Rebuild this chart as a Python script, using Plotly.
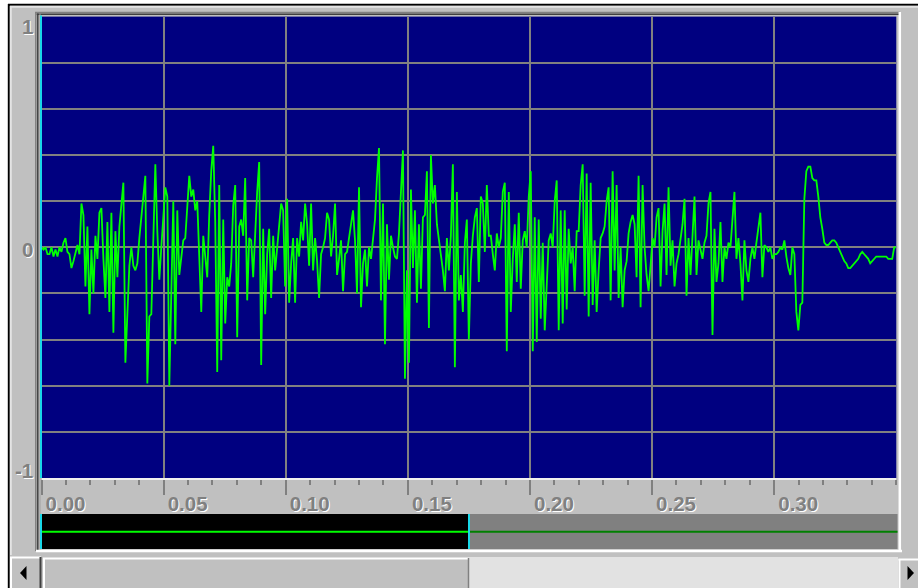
import plotly.graph_objects as go

# ---------------- data ----------------
SAMPLE_RATE = 1223.0  # samples per second of the displayed waveform

amplitude_part1 = [
    0, -0.01, 0.0, -0.03, -0.03, 0.0, -0.04, -0.01, -0.04, 0.0,
    -0.02, 0.02, 0.04, -0.02, -0.03, -0.09, -0.06, -0.02, 0.01, -0.03,
    0.19, 0.14, -0.17, 0.09, -0.29, -0.01, -0.2, 0.05, -0.05, 0.15,
    0.17, -0.05, -0.22, 0.11, -0.28, 0.15, -0.37, 0.07, -0.13, 0.09,
    0.2, 0.28, -0.5, -0.28, -0.08, 0.0, -0.08, -0.1, -0.07, 0.04,
    0.13, 0.22, 0.31, -0.59, -0.3, -0.29, 0.03, 0.36, 0.07, -0.14,
    0.0, 0.12, 0.26, 0.22, -0.6, -0.2, 0.2, -0.42, 0.16, -0.12,
    -0.05, 0.03, 0.04, 0.19, 0.31, 0.22, 0.25, 0.16, 0.2, -0.04,
    -0.28, 0.05, -0.04, -0.13, 0.14, 0.33, 0.44, 0.11, -0.54, 0.27,
    -0.49, 0.12, -0.33, -0.13, -0.17, -0.07, 0.18, 0.27, -0.39, 0.09,
    0.12, 0.05, 0.3, -0.23, 0.04, 0.03, -0.13,
]
amplitude_part2 = [
    0.07, 0.24, 0.37, -0.51, 0.08, -0.29, -0.03, 0.08, -0.22, 0.05,
    -0.1, 0.0, 0.07, 0.19, 0.16, -0.17, 0.21, -0.24, -0.07, 0.04,
    -0.24, 0.04, -0.04, 0.11, 0.03, 0.19, 0.1, -0.08, 0.19, -0.1,
    0.04, -0.06, -0.22, -0.03, 0.0, 0.04, 0.15, 0.12, -0.04, 0.05,
    0.19, -0.12, -0.05, 0.03, -0.19, -0.03, -0.02, 0.04, 0.12, 0.16,
    0.03, -0.2, 0.26, -0.26, -0.07, -0.01, -0.17, 0.0, -0.05, 0.04,
    0.12, 0.3, 0.43, -0.23, 0.19, -0.42, 0.1, -0.14, 0.05, 0.0,
    -0.04, -0.05, 0.06, 0.24, 0.42, -0.57, -0.1, -0.5, 0.25, -0.09,
    0.16, -0.24, 0.1, -0.18, 0.13, 0.14, 0.33, -0.35, 0.4, 0.19,
    0.27, 0.1, 0.04, -0.03, -0.1, -0.19, 0.04, -0.1, 0.05, 0.36,
    -0.52, 0.24, -0.23, -0.12, -0.28, 0.02, 0.12,
]
amplitude_part3 = [
    -0.4, -0.07, 0.05, 0.13, 0.17, -0.15, 0.22, 0.19, -0.02, 0.27,
    0.05, 0.05, -0.03, -0.1, 0.06, 0.0, 0.04, 0.24, 0.28, -0.45,
    0.24, -0.28, -0.05, 0.1, -0.15, 0.15, -0.18, 0.03, 0.07, 0.0,
    0.22, 0.33, -0.45, 0.13, -0.41, 0.12, -0.31, 0.02, -0.36, -0.15,
    0.03, 0.06, 0.0, 0.2, 0.29, -0.36, 0.16, -0.33, 0.16, -0.27,
    0.08, -0.07, 0.0, -0.19, 0.07, 0.07, 0.27, 0.36, -0.21, 0.32,
    -0.3, 0.28, -0.25, 0.03, -0.28, -0.1, 0.04, 0.06, 0.09, 0.2,
    0.26, -0.23, 0.33, -0.1, 0.27, -0.22, 0.0, -0.26, -0.1, -0.06,
    0.06, 0.11, 0.14, 0.1, -0.13, 0.31, -0.26, 0.27, 0.0, -0.12,
    -0.19, -0.08, 0.04, 0.0, 0.13, 0.17, -0.17, 0.07, 0.19, -0.12,
    0.26, -0.08, 0.03, -0.17, -0.07, -0.03, 0.05,
]
amplitude_part4 = [
    0.1, 0.21, -0.21, 0.04, -0.12, 0.05, 0.22, -0.12, 0.03, -0.01,
    -0.05, 0.02, 0.05, 0.19, 0.24, -0.38, 0.08, -0.15, -0.07, 0.11,
    -0.15, 0.0, -0.05, 0.02, 0.0, 0.12, 0.24, -0.05, 0.04, -0.07,
    -0.23, 0.03, -0.1, -0.15, -0.05, 0.0, -0.05, 0.02, 0.08, 0.15,
    -0.13, 0.01, 0.0, -0.02, 0.0, -0.05, -0.03, -0.03, -0.02, 0.0,
    -0.01, 0.03, -0.04, -0.09, -0.12, 0.0, -0.03, -0.28, -0.36, -0.25,
    -0.24, 0.21, 0.33, 0.35, 0.35, 0.3, 0.29, 0.29, 0.22, 0.13,
    0.08, 0.02, 0.01, 0.01, 0.02, 0.03, 0.03, 0.02, 0.0, -0.02,
    -0.04, -0.06, -0.07, -0.09, -0.09, -0.08, -0.07, -0.06, -0.05, -0.03,
    -0.02, -0.03, -0.04, -0.05, -0.07, -0.06, -0.05, -0.04, -0.04, -0.04,
    -0.04, -0.04, -0.04, -0.05, -0.05, -0.05, 0.0, 0.0,
]
amplitude = amplitude_part1 + amplitude_part2 + amplitude_part3 + amplitude_part4
time_s = [i / SAMPLE_RATE for i in range(len(amplitude))]

x_tick_vals = [0.00, 0.05, 0.10, 0.15, 0.20, 0.25, 0.30]
x_tick_text = ["0.00", "0.05", "0.10", "0.15", "0.20", "0.25", "0.30"]
y_label_text = ["1", "0", "-1"]
y_label_vals = [1, 0, -1]

# ---------------- layout helpers ----------------
W, H = 918, 588
def PX(x):
    return x / W
def PY(y):
    return 1 - y / H

PLOT_L, PLOT_R, PLOT_T, PLOT_B = 41.5, 896.3, 16.6, 478.0

LABEL_FONT = dict(family="Liberation Sans, Arial, sans-serif", size=20.5,
                  color="#808080", weight="bold",
                  shadow="1px 1px 0px #ffffff")

fig = go.Figure()
fig.add_trace(go.Scatter(
    x=time_s, y=amplitude, mode="lines",
    line=dict(color="#00ff00", width=1.8),
    hoverinfo="skip", showlegend=False,
))

shapes = []
def rect(x0, y0, x1, y1, fill, line_color=None, lw=0):
    shapes.append(dict(type="rect", xref="paper", yref="paper",
                       x0=PX(x0), x1=PX(x1), y0=PY(y1), y1=PY(y0),
                       fillcolor=fill,
                       line=dict(width=lw, color=line_color or fill)))
def hline(x0, x1, y, color, lw):
    shapes.append(dict(type="line", xref="paper", yref="paper",
                       x0=PX(x0), x1=PX(x1), y0=PY(y), y1=PY(y),
                       line=dict(color=color, width=lw)))
def vline(x, y0, y1, color, lw):
    shapes.append(dict(type="line", xref="paper", yref="paper",
                       x0=PX(x), x1=PX(x), y0=PY(y0), y1=PY(y1),
                       line=dict(color=color, width=lw)))
def tri(points, color):
    path = "M " + " L ".join(f"{PX(a)},{PY(b)}" for a, b in points) + " Z"
    shapes.append(dict(type="path", xref="paper", yref="paper", path=path,
                       fillcolor=color, line=dict(color=color, width=0)))

# window frame
rect(0, 0, W, 4, "#ffffff")
rect(0, 0, 8, H, "#ffffff")
hline(8, W, 4.8, "#000000", 2)
vline(8.8, 4, H, "#000000", 2)
hline(10, W, 6.8, "#e4e4e4", 2)
vline(10.8, 6, H, "#e4e4e4", 2)

# sunken panel border
hline(35, 900, 12.5, "#808080", 1.5)
hline(36.5, 899, 14.3, "#404040", 1.5)
vline(35.8, 12, 551, "#808080", 1.5)
vline(37.8, 13.5, 550, "#404040", 1.5)
vline(40.0, 13.5, 550, "#a0a0a0", 1)
hline(36, 902, 551.0, "#ffffff", 2.5)
vline(899.8, 12, 552, "#ffffff", 2.5)

# overview strip
rect(41, 514, 469, 549, "#000000")
rect(469, 514, 897.5, 549, "#808080")
hline(41, 469, 531.7, "#00ff00", 2)
hline(469, 897.5, 531.7, "#008000", 2)
vline(41, 514, 549, "#18d8e8", 2)
vline(469, 514, 549, "#18d8e8", 2)

# cursor line in the waveform view
vline(41, PLOT_T - 1, PLOT_B, "#18d8e8", 2)

# scrollbar
rect(10, 555, W, H, "#c0c0c0")
rect(469, 557, 898, H, "#e2e2e2")
# left button
hline(10, 41, 557.5, "#ffffff", 2)
vline(11, 557, H, "#ffffff", 2)
vline(40.5, 557, H, "#404040", 2)
tri([(26.5, 566), (26.5, 580), (20, 573)], "#000000")
# thumb
hline(43, 469, 558.5, "#ffffff", 2)
vline(44, 558, H, "#ffffff", 2)
vline(468.5, 558, H, "#808080", 1.5)
# right button
rect(898.5, 558, W, H, "#c0c0c0")
hline(898.5, W, 559.5, "#ffffff", 2)
vline(899.5, 559, H, "#ffffff", 2)
tri([(907.5, 566), (907.5, 580), (914, 573)], "#000000")

annotations = []
y_centres = {1: 26.0, 0: 250.0, -1: 471.0}
for txt, v in zip(y_label_text, y_label_vals):
    annotations.append(dict(
        text=txt, xref="paper", yref="paper", x=PX(34.5), y=PY(y_centres[v]),
        xanchor="right", yanchor="middle", showarrow=False, font=LABEL_FONT,
    ))

fig.update_layout(
    width=W, height=H, margin=dict(l=0, r=0, t=0, b=0),
    paper_bgcolor="#c0c0c0", plot_bgcolor="#000080",
    showlegend=False, shapes=shapes, annotations=annotations,
    xaxis=dict(
        domain=[PX(PLOT_L), PX(PLOT_R)], range=[0, 0.35],
        tickmode="array", tickvals=x_tick_vals, ticktext=x_tick_text,
        showgrid=True, gridcolor="#808080", gridwidth=2, zeroline=False,
        ticks="outside", ticklen=15, tickwidth=2, tickcolor="#808080",
        showline=True, linecolor="#f0f0f0", linewidth=2,
        tickfont=LABEL_FONT, ticklabelshift=24, ticklabelstandoff=-9,
        minor=dict(tickmode="linear", tick0=0, dtick=0.01, ticks="outside",
                   ticklen=5, tickwidth=2, tickcolor="#808080", showgrid=False),
        fixedrange=True,
    ),
    yaxis=dict(
        domain=[PY(PLOT_B), PY(PLOT_T)], range=[-1, 1],
        tickmode="linear", tick0=-1, dtick=0.2,
        showgrid=True, gridcolor="#808080", gridwidth=2, zeroline=False,
        showticklabels=False, ticks="", fixedrange=True,
    ),
)

fig.write_html("out.html", config={"displayModeBar": False},
               post_script="document.body.style.margin='0';document.body.style.overflow='hidden';")
